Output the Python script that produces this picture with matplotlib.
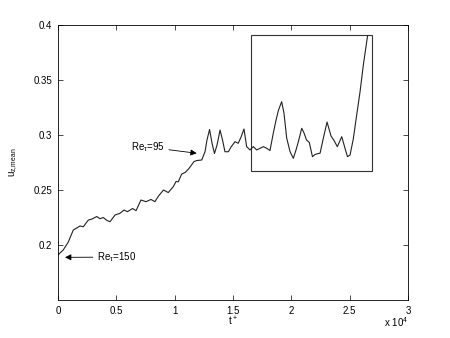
import matplotlib
matplotlib.use("Agg")
import matplotlib.pyplot as plt
from matplotlib.patches import Rectangle

plt.rcParams['font.family'] = ['Liberation Sans', 'DejaVu Sans']
plt.rcParams['mathtext.default'] = 'regular'

# t+ in units of 1e4
t_e4 = [0.0, 0.045, 0.088, 0.131, 0.189, 0.217, 0.260, 0.291, 0.332, 0.360,
        0.388, 0.420, 0.446, 0.489, 0.531, 0.566, 0.596, 0.639, 0.669, 0.711,
        0.754, 0.797, 0.831, 0.861, 0.904, 0.945, 0.988, 1.011, 1.031, 1.060,
        1.089, 1.119, 1.144, 1.166, 1.191, 1.232, 1.260, 1.277, 1.299, 1.320,
        1.341, 1.363, 1.389, 1.410, 1.431, 1.460, 1.483, 1.517, 1.545, 1.569,
        1.594, 1.617, 1.646, 1.674, 1.703, 1.731, 1.761, 1.789, 1.817, 1.845,
        1.869, 1.890, 1.917, 1.937, 1.960, 1.989, 2.017, 2.040, 2.060, 2.089,
        2.109, 2.130, 2.154, 2.181, 2.203, 2.231, 2.246, 2.274, 2.306, 2.340,
        2.366, 2.394, 2.432, 2.460, 2.481, 2.503, 2.531, 2.560, 2.589, 2.617,
        2.653]
u_mean = [0.191, 0.1955, 0.2027, 0.2136, 0.2173, 0.2166, 0.2227, 0.2236, 0.2259, 0.2239,
          0.2250, 0.2223, 0.2212, 0.2273, 0.2288, 0.2318, 0.2303, 0.2332, 0.2312, 0.2409,
          0.2394, 0.2414, 0.2394, 0.2445, 0.2500, 0.2477, 0.2530, 0.2577, 0.2575, 0.2645,
          0.2659, 0.2691, 0.2727, 0.2759, 0.2768, 0.2773, 0.2848, 0.2955, 0.3050, 0.2927,
          0.2832, 0.2909, 0.3045, 0.2955, 0.2848, 0.2848, 0.2891, 0.2939, 0.2925, 0.2982,
          0.3055, 0.2894, 0.2864, 0.2895, 0.2864, 0.2879, 0.2894, 0.2879, 0.2859, 0.3015,
          0.3136, 0.3227, 0.3303, 0.3197, 0.2973, 0.2848, 0.2788, 0.2864, 0.2939, 0.3061,
          0.3018, 0.2955, 0.2932, 0.2803, 0.2823, 0.2832, 0.2834, 0.2970, 0.3118, 0.2991,
          0.2950, 0.2894, 0.2985, 0.2879, 0.2803, 0.2818, 0.2964, 0.3182, 0.3394, 0.3636,
          0.3900]

xticks = [0, 0.5, 1, 1.5, 2, 2.5, 3]
xticklabels = ['0', '0.5', '1', '1.5', '2', '2.5', '3']
yticks = [0.2, 0.25, 0.3, 0.35, 0.4]
yticklabels = ['0.2', '0.25', '0.3', '0.35', '0.4']

fig = plt.figure(figsize=(4.5, 3.38), dpi=100)
ax = fig.add_axes([0.1289, 0.1124, 0.7778, 0.8136])

ax.plot(t_e4, u_mean, color='#222222', lw=0.8)

# zoom box
ax.add_patch(Rectangle((1.654, 0.2673), 1.036, 0.1239, fill=False,
                       edgecolor='#333333', lw=0.8))

ax.annotate('Re$_\\tau$=95', xy=(1.189, 0.2834), xytext=(0.626, 0.289),
            fontsize=7, ha='left', va='center',
            arrowprops=dict(arrowstyle='-|>', color='black', lw=0.6,
                            mutation_scale=9, shrinkA=1, shrinkB=0))
ax.annotate('Re$_\\tau$=150', xy=(0.06, 0.1888), xytext=(0.334, 0.189),
            fontsize=7, ha='left', va='center',
            arrowprops=dict(arrowstyle='-|>', color='black', lw=0.6,
                            mutation_scale=9, shrinkA=1, shrinkB=0))

ax.set_xlim(0, 3)
ax.set_ylim(0.15, 0.4)
ax.set_xticks(xticks)
ax.set_xticklabels(xticklabels)
ax.set_yticks(yticks)
ax.set_yticklabels(yticklabels)
ax.tick_params(direction='in', length=3.5, width=0.5, labelsize=7,
               top=True, right=True, pad=4)
for s in ax.spines.values():
    s.set_linewidth(0.6)

ax.set_xlabel('t$^+$', fontsize=7, va='top')
ax.xaxis.set_label_coords(0.5, -0.054)
ax.set_ylabel('u$_{z{,}mean}$', fontsize=7)
ax.yaxis.set_label_coords(-0.11, 0.5)
ax.text(1.0, -0.054, 'x 10$^4$', transform=ax.transAxes, ha='right',
        va='top', fontsize=7)

fig.savefig('out.png', dpi=100)
